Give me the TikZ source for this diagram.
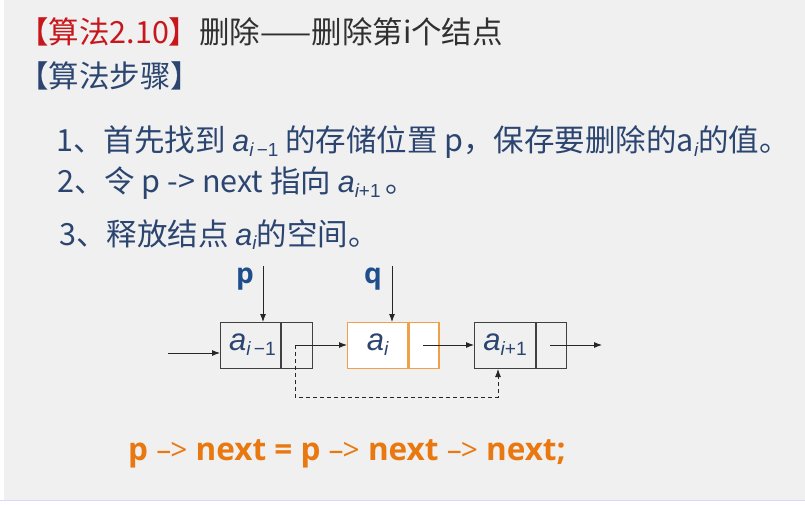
\documentclass[tikz,border=0pt]{standalone}
\usepackage{fontspec}
\usepackage{graphicx}
\setmainfont{Noto Sans CJK SC}
\newfontfamily\latf{Open Sans}
\newfontfamily\itf{Liberation Sans}
\usetikzlibrary{arrows.meta}
\definecolor{bgc}{HTML}{F0F0F0}
\definecolor{titlered}{HTML}{C8171C}
\definecolor{darktxt}{HTML}{303030}
\definecolor{navy}{HTML}{2B4570}
\definecolor{ptrblue}{HTML}{1F4E8C}
\definecolor{orng}{HTML}{E8780F}
\definecolor{boxorng}{HTML}{F0A048}
\newcommand\va[1]{{\itf\itshape a}\raisebox{-0.3ex}{\scalebox{0.62}{\itf #1}}}
\newcommand\thinarr{{\mdseries\fontsize{30}{30}\selectfont –\kern-1pt>}}
\tikzset{
  x=1pt,y=-1pt,
  txt/.style={anchor=base west,inner sep=0pt,font=\fontsize{30.5}{33}\selectfont},
  cell/.style={draw=black!75,line width=1pt,minimum height=46,inner sep=0pt,fill=none},
  ocell/.style={cell,draw=boxorng,fill=white,line width=1.3pt},
  link/.style={-{Latex[length=8pt,width=6pt]},line width=0.9pt,black!85},
  dlink/.style={link,dashed,dash pattern=on 4pt off 3pt},
  ptrlbl/.style={font=\latf\bfseries\fontsize{28}{30}\selectfont,text=ptrblue,inner sep=0pt}
}
\begin{document}
\begin{tikzpicture}
\useasboundingbox (0,0) rectangle (805,505);
\fill[white] (0,0) rectangle (805,505);
\fill[bgc] (4,0) rectangle (805,500);
\fill[blue!15] (0,500) rectangle (805,501);

% titles
\node[txt] (title) at (18,44) {\textcolor{titlered}{【算法2.10】}\textcolor{darktxt}{删除——删除第i个结点}};
\node[txt,text=navy] (steps) at (18,88) {【算法步骤】};

% steps
\node[txt,text=navy] (s1) at (56,152) {1、首先找到 \va{{\itshape i}\,−1} 的存储位置 p，保存要删除的a\raisebox{-0.3ex}{\scalebox{0.62}{\itf\itshape i}}的值。};
\node[txt,text=navy] (s2) at (57,193) {2、令 p -> next 指向 \va{{\itshape i}+1}\,。};
\node[txt,text=navy] (s3) at (59,245) {3、释放结点 \va{\itshape i}的空间。};

% list nodes
\node[cell,minimum width=60,anchor=north west] (d1) at (220,322) {};
\node[cell,minimum width=31,anchor=north west] (n1) at (d1.north east) {};
\node[ocell,minimum width=60,anchor=north west] (d2) at (347,322) {};
\node[ocell,minimum width=30,anchor=north west] (n2) at (d2.north east) {};
\node[cell,minimum width=61,anchor=north west] (d3) at (474,322) {};
\node[cell,minimum width=30,anchor=north west] (n3) at (d3.north east) {};
\node[text=navy,font=\fontsize{31}{32}\selectfont,inner sep=0pt] at ([xshift=2,yshift=1]d1.center) {\va{{\itshape i}\,−1}};
\node[text=navy,font=\fontsize{31}{32}\selectfont,inner sep=0pt] at ([yshift=1]d2.center) {\va{\itshape i}};
\node[text=navy,font=\fontsize{31}{32}\selectfont,inner sep=0pt] at ([yshift=1]d3.center) {\va{{\itshape i}+1}};

% pointer labels
\node[ptrlbl] (p) at (245,279) {p};
\node[ptrlbl] (q) at (373,279) {q};
\coordinate (pt) at (263,266);
\coordinate (qt) at (392,266);
\draw[link] (pt) -- (pt |- d1.north);
\draw[link] (qt) -- (qt |- d2.north);

% links
\coordinate (in) at (168,353);
\draw[link] (in) -- (in -| d1.west);
\coordinate (s1p) at (295,345);
\draw[link] (s1p) -- (s1p -| d2.west);
\coordinate (s2p) at (423,345);
\draw[link] (s2p) -- (s2p -| d3.west);
\coordinate (s3p) at (550,345);
\coordinate (out) at (602,345);
\draw[link] (s3p) -- (out);
\coordinate (dd) at (498,397);
\draw[dlink] (s1p) |- (dd) -- (dd |- d3.south);

% formula
\node[anchor=base west,inner sep=0pt,text=orng,font=\latf\bfseries\fontsize{31.5}{33}\selectfont] (f) at (128,460)
 {p \thinarr{} next = p \thinarr{} next \thinarr{} next;};
\end{tikzpicture}
\end{document}
